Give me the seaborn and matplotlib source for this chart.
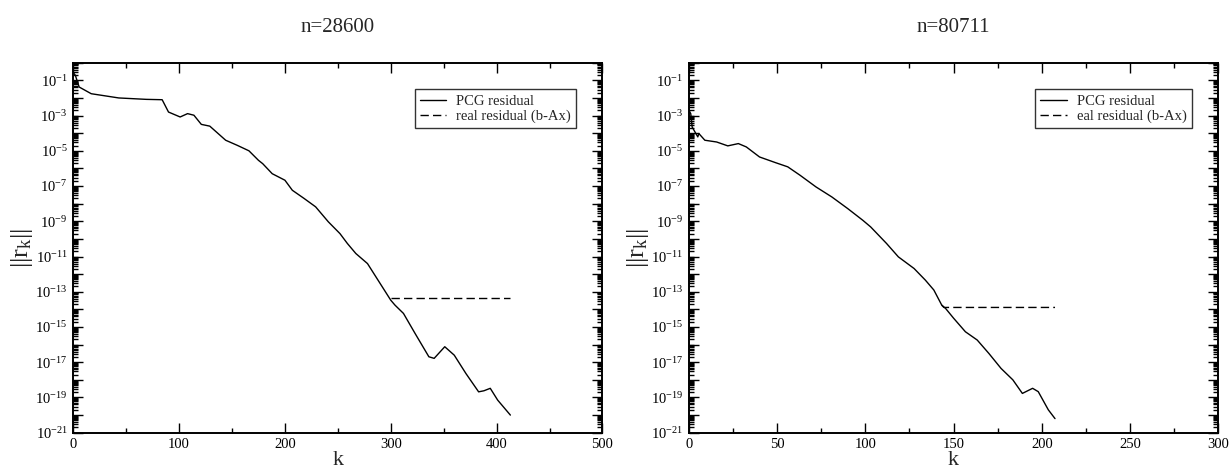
import numpy as np
import pandas as pd
import matplotlib
matplotlib.use("Agg")
import matplotlib.pyplot as plt
from matplotlib.ticker import LogLocator, FuncFormatter, MultipleLocator, NullFormatter
import seaborn as sns

# ---------------- data ----------------
titles = ["n=28600", "n=80711"]
legend_pcg = ["PCG residual", "PCG residual"]
legend_real = ["real residual (b-Ax)", "eal residual (b-Ax)"]

k_left = [0, 2, 5.6, 17, 43, 69, 84, 90, 101, 108, 114, 121, 129, 144, 155, 166,
          175, 179, 188, 200, 207, 218, 229, 241, 252, 259, 267, 278, 289, 300,
          304, 312, 323, 336, 341, 351, 360, 371, 383, 388, 394, 401, 413]
log_left = [-0.55, -0.72, -1.38, -1.76, -2.0, -2.08, -2.1, -2.8, -3.08, -2.89, -2.98,
            -3.5, -3.6, -4.4, -4.69, -5.0, -5.54, -5.73, -6.3, -6.67, -7.24, -7.7,
            -8.18, -9.03, -9.7, -10.26, -10.83, -11.4, -12.44, -13.48, -13.76,
            -14.23, -15.37, -16.69, -16.78, -16.12, -16.6, -17.64, -18.68, -18.62,
            -18.48, -19.15, -20.0]
k_real_left = [300, 413]
log_real_left = [-13.34, -13.34]

k_right = [0, 1, 1.8, 3.4, 5, 5.6, 9, 15.7, 22, 28, 32.5, 40, 49, 56, 63, 72, 81,
           90, 98.5, 103, 112, 118.7, 127.6, 134, 138.8, 143.3, 145.5, 150, 156.7,
           163.4, 170, 176.9, 183.6, 189, 191, 194.8, 198, 203.7, 207.5]
log_right = [-2.7, -2.89, -3.65, -3.93, -4.21, -4.02, -4.4, -4.5, -4.72, -4.59, -4.78,
             -5.35, -5.67, -5.91, -6.39, -7.05, -7.62, -8.28, -8.94, -9.32, -10.26,
             -11.02, -11.68, -12.34, -12.9, -13.76, -13.95, -14.5, -15.27, -15.74,
             -16.5, -17.35, -18.0, -18.77, -18.67, -18.48, -18.67, -19.7, -20.2]
k_real_right = [143.3, 144.5, 207.5]
log_real_right = [-13.76, -13.89, -13.89]

xmax = [500, 300]
xmajor = [100, 50]
xminor = [50, 25]

# ---------------- style ----------------
sns.set_style("ticks")
plt.rcParams["font.family"] = ["Liberation Serif", "DejaVu Serif"]
plt.rcParams["mathtext.fontset"] = "custom"
plt.rcParams["mathtext.rm"] = "Liberation Serif"
plt.rcParams["mathtext.it"] = "Liberation Serif:italic"
plt.rcParams["mathtext.default"] = "regular"
plt.rcParams["axes.linewidth"] = 1.4

fig = plt.figure(figsize=(12.29, 4.68), dpi=100)
positions = [[0.0596, 0.0754, 0.4306, 0.7906], [0.5606, 0.0754, 0.4306, 0.7906]]

datasets = [
    (k_left, log_left, k_real_left, log_real_left),
    (k_right, log_right, k_real_right, log_real_right),
]


def ylab(v, pos):
    if v <= 0:
        return ""
    e = int(round(np.log10(v)))
    if e % 2 == 0:
        return ""
    return r"$10^{%d}$" % e


for i, (kk, ll, kr, lr) in enumerate(datasets):
    ax = fig.add_axes(positions[i])
    df = pd.DataFrame({"k": kk, "r": 10.0 ** np.array(ll)})
    dr = pd.DataFrame({"k": kr, "r": 10.0 ** np.array(lr)})
    sns.lineplot(data=df, x="k", y="r", ax=ax, color="black", linewidth=1.0,
                 estimator=None, sort=False, label=legend_pcg[i])
    sns.lineplot(data=dr, x="k", y="r", ax=ax, color="black", linewidth=1.0,
                 estimator=None, sort=False, label=legend_real[i])
    ax.lines[1].set_dashes((6, 3))
    ax.set_yscale("log")
    ax.set_ylim(1e-21, 1e0)
    ax.set_xlim(0, xmax[i])
    ax.xaxis.set_major_locator(MultipleLocator(xmajor[i]))
    ax.xaxis.set_minor_locator(MultipleLocator(xminor[i]))
    ax.yaxis.set_major_locator(LogLocator(base=10, subs=(1.0,), numticks=40))
    ax.yaxis.set_minor_locator(LogLocator(base=10, subs=np.arange(2, 10), numticks=40))
    ax.yaxis.set_major_formatter(FuncFormatter(ylab))
    ax.yaxis.set_minor_formatter(NullFormatter())
    ax.tick_params(which="both", direction="in", top=True, right=True,
                   labelsize=10.5, colors="black")
    ax.tick_params(which="major", length=7, width=1.0, pad=4)
    ax.tick_params(which="minor", length=3.5, width=1.0)
    ax.set_xlabel("k", fontsize=16, labelpad=0)
    ax.set_ylabel(r"$||\mathrm{r}_\mathrm{k}||$", fontsize=19, labelpad=0)
    ax.set_title(titles[i], fontsize=15, pad=22)
    for s in ax.spines.values():
        s.set_color("black")
    leg = ax.legend(loc="upper right", bbox_to_anchor=(0.950, 0.928),
                    borderaxespad=0, fancybox=False, frameon=True, fontsize=10.5,
                    handlelength=1.8, handletextpad=0.7, borderpad=0.35,
                    labelspacing=0.15)
    leg.get_frame().set_edgecolor("black")
    leg.get_frame().set_linewidth(1.0)

fig.savefig("out.png", dpi=100)
